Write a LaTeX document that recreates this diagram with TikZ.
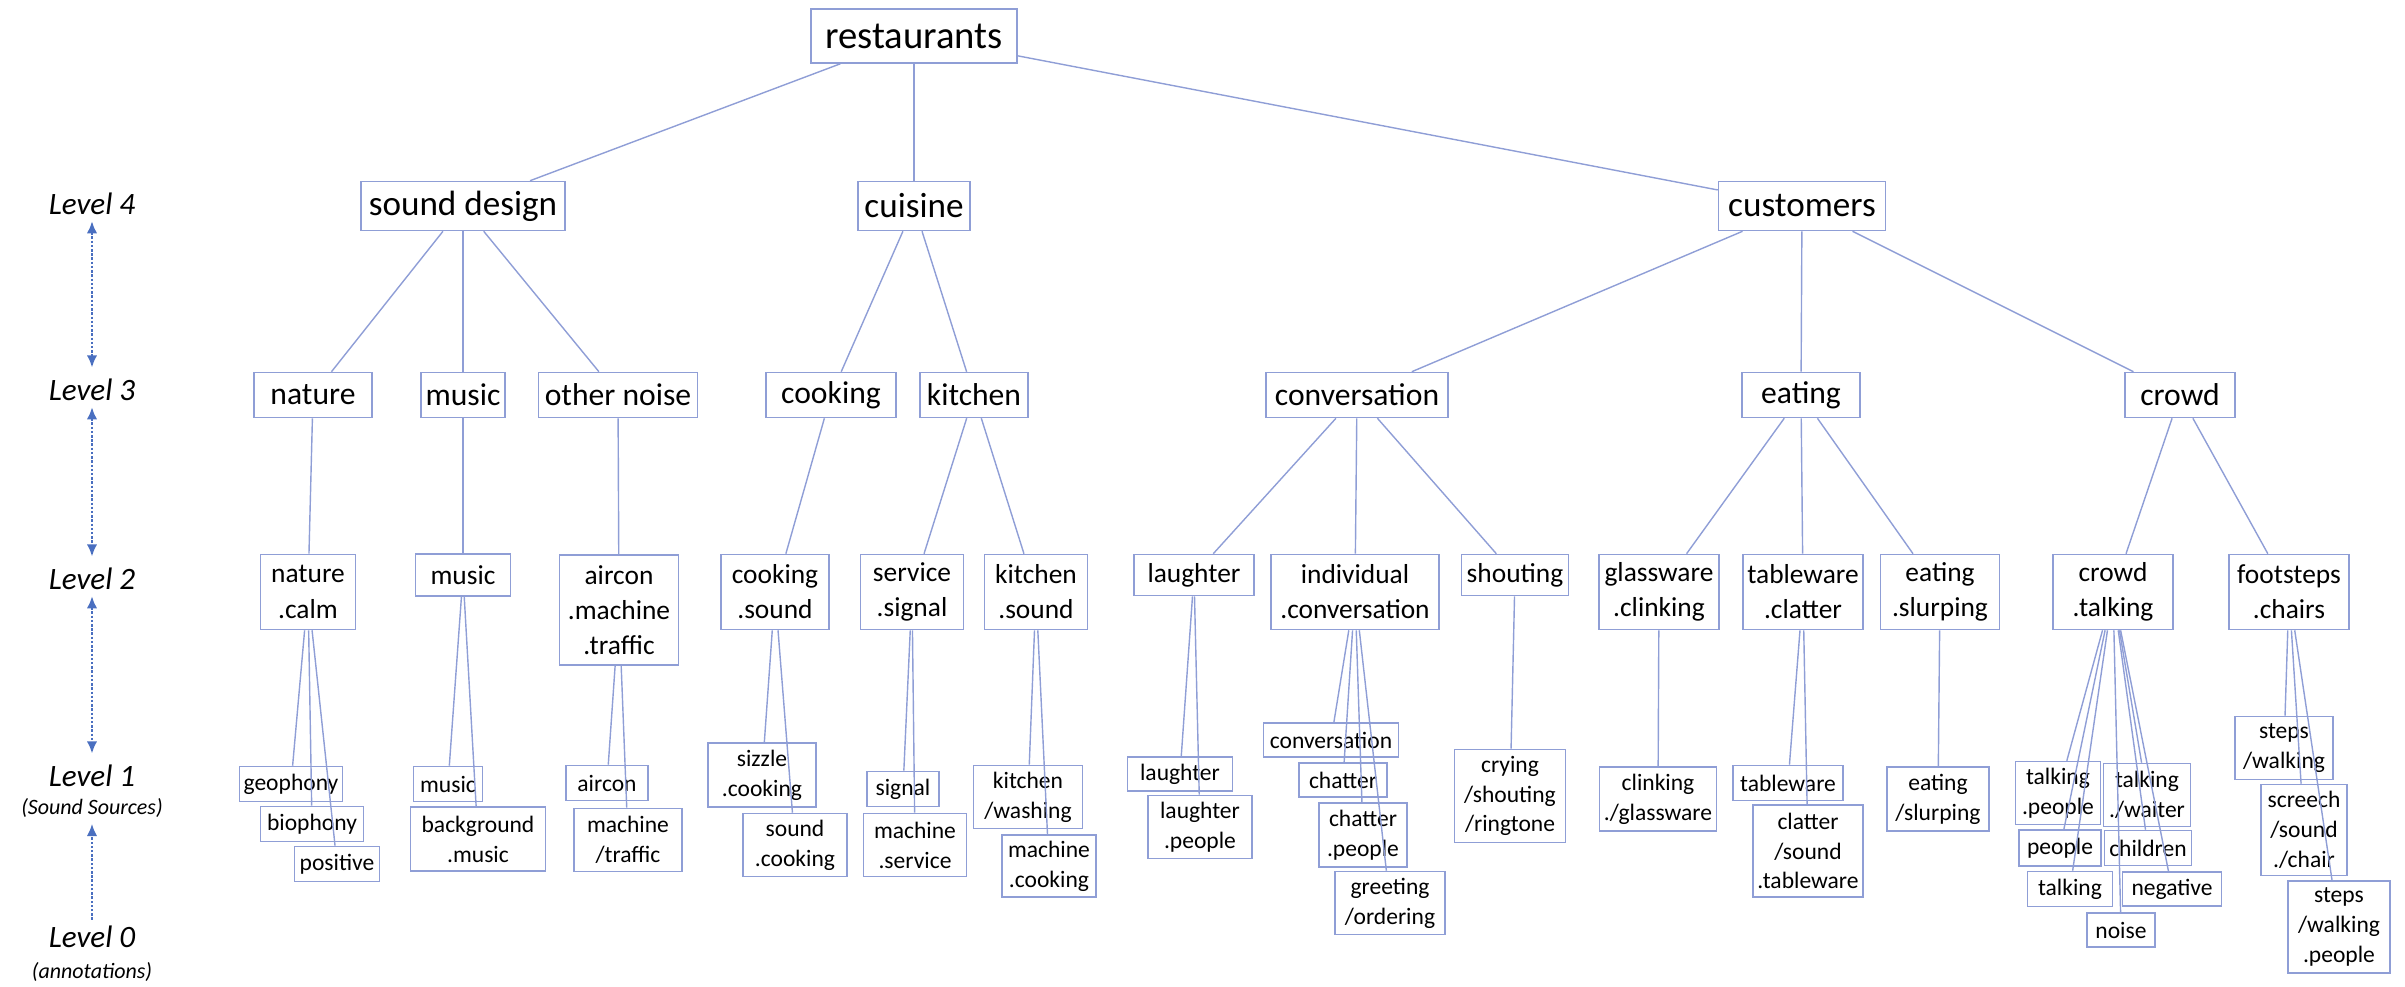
\documentclass[tikz,border=0pt]{standalone}
\usepackage{fontspec}
\setmainfont{Carlito}
\usepackage{xcolor}
\usepackage{tikz}
\usetikzlibrary{shapes.geometric, arrows.meta}
\definecolor{boxline}{HTML}{8F9ED6}
\definecolor{arrowblue}{HTML}{4A6FC0}
\tikzstyle{box} = [draw=boxline, line width=0.9pt, rectangle, align=center, inner sep=0pt]
\tikzstyle{topbox} = [box, font=\fontsize{22}{27}\selectfont]
\tikzstyle{lfour} = [box, font=\fontsize{20}{24}\selectfont]
\tikzstyle{lthree} = [box, font=\fontsize{18}{22}\selectfont]
\tikzstyle{ltwo} = [box, font=\fontsize{15.6}{20}\selectfont]
\tikzstyle{lone} = [box, font=\fontsize{13.4}{17}\selectfont]
\tikzstyle{edge} = [draw=boxline, line width=0.8pt]
\tikzstyle{leveltext} = [font=\fontsize{17.7}{21}\selectfont\itshape]
\tikzstyle{levelnote} = [font=\fontsize{12.5}{15}\selectfont\itshape]
\tikzstyle{levelarrow} = [densely dotted, line width=1.4pt, color=arrowblue, >={Latex[length=7pt,width=6pt]}]
\tikzset{wh/.style 2 args={minimum width=#1*0.02cm, minimum height=#2*0.02cm}}

\begin{document}
\begin{tikzpicture}[x=0.02cm, y=-0.02cm]
        \useasboundingbox (0,0) rectangle (2405,987);
        % Levels
        \node[leveltext] (lv4) at (92,204) {Level 4};
        \node[leveltext] (lv3) at (92,390) {Level 3};
        \node[leveltext] (lv2) at (92,579) {Level 2};
        \node[leveltext] (lv1) at (92,776) {Level 1};
        \node[levelnote] (srcs) at (92,808) {(Sound Sources)};
        \node[leveltext] (lv0) at (92,937) {Level 0};
        \node[levelnote] (anns) at (92,972) {(annotations)};
        \draw[levelarrow, <->, shorten >=3pt] (lv4) -- (lv3);
        \draw[levelarrow, <->, shorten >=3pt] (lv3) -- (lv2);
        \draw[levelarrow, <->, shorten >=3pt] (lv2) -- (lv1);
        \draw[levelarrow, ->] (lv0) -- (srcs);

        % Level 4 and root
        \node[topbox, wh={206}{54}] (rest) at (914,36) {restaurants};
        \node[lfour, wh={204}{49}] (sd) at (463,206) {sound design};
        \node[lfour, wh={112}{49}] (cui) at (914,206) {cuisine};
        \node[lfour, wh={167}{49}] (cust) at (1802,206) {customers};

        % Level 3
        \node[lthree, wh={118}{45}] (nat3) at (313,395) {nature};
        \node[lthree, wh={84}{45}] (mus3) at (463,395) {music};
        \node[lthree, wh={159}{45}] (oth3) at (618,395) {other noise};
        \node[lthree, wh={130}{45}] (cook3) at (831,395) {cooking};
        \node[lthree, wh={108}{45}] (kit3) at (974,395) {kitchen};
        \node[lthree, wh={182}{45}] (conv3) at (1357,395) {conversation};
        \node[lthree, wh={118}{45}] (eat3) at (1801,395) {eating};
        \node[lthree, wh={110}{45}] (crowd3) at (2180,395) {crowd};

        % Level 2
        \node[ltwo, wh={95}{75}] (natc2) at (308,592) {nature\\.calm};
        \node[ltwo, wh={95}{42}] (mus2) at (463,575) {music};
        \node[ltwo, wh={119}{110}] (airc2) at (619,610) {aircon\\.machine\\.traffic};
        \node[ltwo, wh={108}{75}] (cooks2) at (775,592) {cooking\\.sound};
        \node[ltwo, wh={103}{75}] (serv2) at (912,592) {service\\.signal};
        \node[ltwo, wh={103}{75}] (kits2) at (1036,592) {kitchen\\.sound};
        \node[ltwo, wh={120}{41}] (laugh2) at (1194,575) {laughter};
        \node[ltwo, wh={168}{75}] (indiv2) at (1355,592) {individual\\.conversation};
        \node[ltwo, wh={107}{41}] (shout2) at (1515,575) {shouting};
        \node[ltwo, wh={120}{75}] (glass2) at (1659,592) {glassware\\.clinking};
        \node[ltwo, wh={120}{75}] (table2) at (1803,592) {tableware\\.clatter};
        \node[ltwo, wh={119}{75}] (eats2) at (1940,592) {eating\\.slurping};
        \node[ltwo, wh={120}{75}] (crowdt2) at (2113,592) {crowd\\.talking};
        \node[ltwo, wh={120}{75}] (foot2) at (2289,592) {footsteps\\.chairs};

        % Level 1
        \node[lone, wh={103}{35}] (geo) at (291,784) {geophony};
        \node[lone, wh={103}{35}] (bio) at (312,824) {biophony};
        \node[lone, wh={85}{35}] (pos) at (337,864) {positive};
        \node[lone, wh={69}{35}] (mus1) at (448,784) {music};
        \node[lone, wh={135}{64}] (bgm) at (478,839) {background\\.music};
        \node[lone, wh={82}{35}] (airc1) at (607,783) {aircon};
        \node[lone, wh={108}{63}] (macht) at (628,840) {machine\\/traffic};
        \node[lone, wh={108}{64}] (sizz) at (762,775) {sizzle\\.cooking};
        \node[lone, wh={104}{63}] (sndc) at (795,845) {sound\\.cooking};
        \node[lone, wh={72}{35}] (sig) at (903,789) {signal};
        \node[lone, wh={103}{63}] (machs) at (915,845) {machine\\.service};
        \node[lone, wh={109}{63}] (kitw) at (1028,797) {kitchen\\/washing};
        \node[lone, wh={94}{62}] (machc) at (1049,866) {machine\\.cooking};
        \node[lone, wh={105}{34}] (laugh1) at (1180,774) {laughter};
        \node[lone, wh={104}{63}] (laughp) at (1200,827) {laughter\\.people};
        \node[lone, wh={135}{34}] (conv1) at (1331,740) {conversation};
        \node[lone, wh={88}{34}] (chat) at (1343,780) {chatter};
        \node[lone, wh={88}{64}] (chatp) at (1363,835) {chatter\\.people};
        \node[lone, wh={110}{63}] (greet) at (1390,903) {greeting\\/ordering};
        \node[lone, wh={111}{93}] (cry) at (1510,796) {crying\\/shouting\\/ringtone};
        \node[lone, wh={117}{64}] (clink) at (1658,799) {clinking\\./glassware};
        \node[lone, wh={110}{35}] (table1) at (1788,783) {tableware};
        \node[lone, wh={110}{92}] (clat) at (1808,851) {clatter\\/sound\\.tableware};
        \node[lone, wh={102}{64}] (eatsl) at (1938,799) {eating\\/slurping};
        \node[lone, wh={85}{63}] (talkp) at (2058,793) {talking\\.people};
        \node[lone, wh={87}{63}] (talkw) at (2147,795) {talking\\./waiter};
        \node[lone, wh={82}{36}] (peop) at (2060,848) {people};
        \node[lone, wh={87}{35}] (child) at (2148,848) {children};
        \node[lone, wh={85}{35}] (talk) at (2070,889) {talking};
        \node[lone, wh={99}{34}] (neg) at (2172,889) {negative};
        \node[lone, wh={68}{34}] (noise) at (2121,930) {noise};
        \node[lone, wh={98}{63}] (stepw) at (2284,748) {steps\\/walking};
        \node[lone, wh={86}{91}] (scr) at (2304,830) {screech\\/sound\\./chair};
        \node[lone, wh={102}{92}] (stepp) at (2339,927) {steps\\/walking\\.people};

        % Tree edges
        \foreach \a/\b in {rest/sd, rest/cui, rest/cust,
                sd/nat3, sd/mus3, sd/oth3, cui/cook3, cui/kit3,
                cust/conv3, cust/eat3, cust/crowd3,
                nat3/natc2, mus3/mus2, oth3/airc2, cook3/cooks2,
                kit3/serv2, kit3/kits2, conv3/laugh2, conv3/indiv2, conv3/shout2,
                eat3/glass2, eat3/table2, eat3/eats2, crowd3/crowdt2, crowd3/foot2}
            \draw[edge] (\a) -- (\b);
        \foreach \a/\b in {natc2/geo, natc2/bio, natc2/pos, mus2/mus1, mus2/bgm,
                airc2/airc1, airc2/macht, cooks2/sizz, cooks2/sndc,
                serv2/sig, serv2/machs, kits2/kitw, kits2/machc,
                laugh2/laugh1, laugh2/laughp, indiv2/conv1, indiv2/chat,
                indiv2/chatp, indiv2/greet, shout2/cry, glass2/clink,
                table2/table1, table2/clat, eats2/eatsl,
                crowdt2/talkp, crowdt2/talkw, crowdt2/peop, crowdt2/child,
                crowdt2/talk, crowdt2/neg, crowdt2/noise,
                foot2/stepw, foot2/scr, foot2/stepp}
            \draw[edge] (\a) -- (\b);
\end{tikzpicture}
\end{document}
